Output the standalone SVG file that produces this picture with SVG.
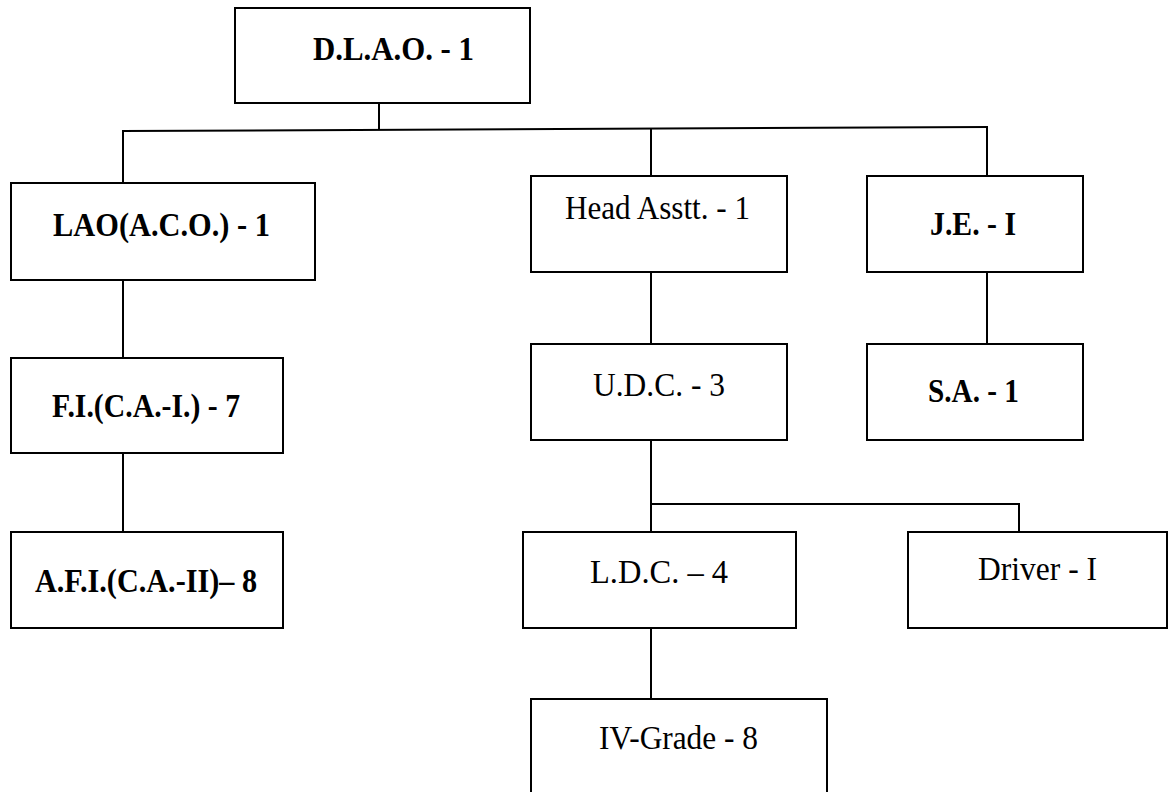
<svg xmlns="http://www.w3.org/2000/svg" width="1171" height="792" viewBox="0 0 1171 792">
<style>
.box{fill:#fff;stroke:#000;stroke-width:2}
.ln{stroke:#000;stroke-width:2;fill:none}
.t{font-family:"Liberation Serif","Times New Roman",serif;font-size:33px;fill:#000}
.b{font-weight:bold}
</style>
<rect width="1171" height="792" fill="#fff"/>
<g id="connectors">
<line class="ln" x1="379" y1="103" x2="379" y2="130"/>
<line class="ln" x1="122" y1="131" x2="988" y2="127"/>
<line class="ln" x1="123" y1="131" x2="123" y2="183"/>
<line class="ln" x1="651" y1="128.6" x2="651" y2="176"/>
<line class="ln" x1="987" y1="127" x2="987" y2="176"/>
<line class="ln" x1="123" y1="280" x2="123" y2="358"/>
<line class="ln" x1="123" y1="453" x2="123" y2="532"/>
<line class="ln" x1="651" y1="272" x2="651" y2="344"/>
<line class="ln" x1="987" y1="272" x2="987" y2="344"/>
<line class="ln" x1="651" y1="440" x2="651" y2="532"/>
<polyline class="ln" points="651,504 1019,504 1019,532"/>
<line class="ln" x1="651" y1="628" x2="651" y2="699"/>
</g>
<g id="dlao"><rect class="box" x="235" y="8" width="295" height="95"/><text class="t b" x="313" y="60" textLength="161" lengthAdjust="spacingAndGlyphs">D.L.A.O. - 1</text></g>
<g id="lao"><rect class="box" x="11" y="183" width="304" height="97"/><text class="t b" x="53" y="236" textLength="217" lengthAdjust="spacingAndGlyphs">LAO(A.C.O.) - 1</text></g>
<g id="fi"><rect class="box" x="11" y="358" width="272" height="95"/><text class="t b" x="52" y="417" textLength="188" lengthAdjust="spacingAndGlyphs">F.I.(C.A.-I.) - 7</text></g>
<g id="afi"><rect class="box" x="11" y="532" width="272" height="96"/><text class="t b" x="35" y="592" textLength="222" lengthAdjust="spacingAndGlyphs">A.F.I.(C.A.-II)– 8</text></g>
<g id="head"><rect class="box" x="531" y="176" width="256" height="96"/><text class="t" x="565" y="219" textLength="185" lengthAdjust="spacingAndGlyphs">Head Asstt. - 1</text></g>
<g id="je"><rect class="box" x="867" y="176" width="216" height="96"/><text class="t b" x="930" y="235" textLength="86" lengthAdjust="spacingAndGlyphs">J.E. - I</text></g>
<g id="sa"><rect class="box" x="867" y="344" width="216" height="96"/><text class="t b" x="928" y="402" textLength="91" lengthAdjust="spacingAndGlyphs">S.A. - 1</text></g>
<g id="udc"><rect class="box" x="531" y="344" width="256" height="96"/><text class="t" x="593" y="396" textLength="132" lengthAdjust="spacingAndGlyphs">U.D.C. - 3</text></g>
<g id="ldc"><rect class="box" x="523" y="532" width="273" height="96"/><text class="t" x="590" y="583" textLength="138" lengthAdjust="spacingAndGlyphs">L.D.C. – 4</text></g>
<g id="driver"><rect class="box" x="908" y="532" width="259" height="96"/><text class="t" x="978" y="580" textLength="119" lengthAdjust="spacingAndGlyphs">Driver - I</text></g>
<g id="ivgrade"><rect class="box" x="531" y="699" width="296" height="110"/><text class="t" x="599" y="749" textLength="159" lengthAdjust="spacingAndGlyphs">IV-Grade - 8</text></g>
</svg>
